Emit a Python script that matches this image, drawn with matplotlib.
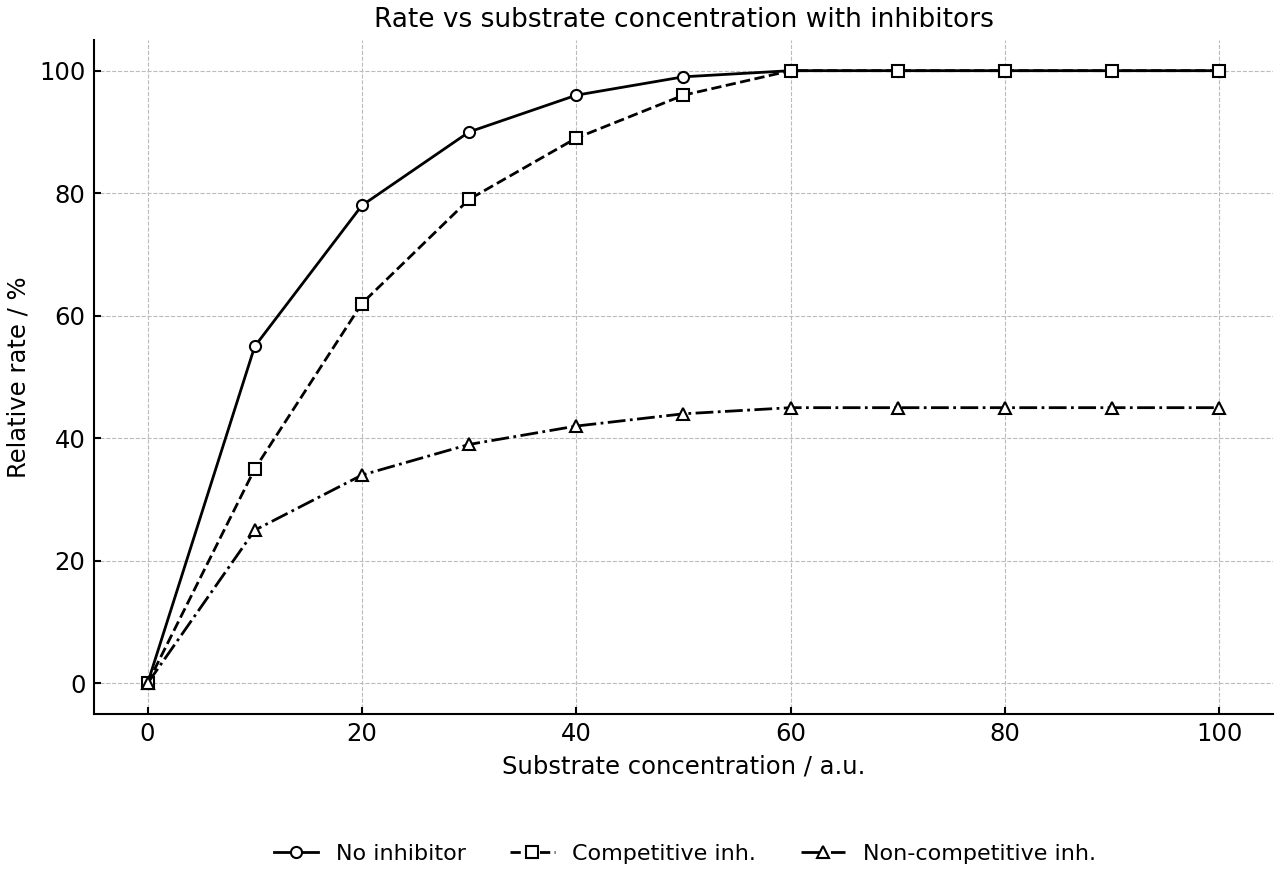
import matplotlib
matplotlib.use("Agg")
import matplotlib.pyplot as plt

substrate = [0, 10, 20, 30, 40, 50, 60, 70, 80, 90, 100]
no_inhibitor = [0, 55, 78, 90, 96, 99, 100, 100, 100, 100, 100]
competitive = [0, 35, 62, 79, 89, 96, 100, 100, 100, 100, 100]
noncompetitive = [0, 25, 34, 39, 42, 44, 45, 45, 45, 45, 45]

fig = plt.figure(figsize=(12.8, 8.8), dpi=100)
ax = fig.add_axes([0.0734, 0.1886, 0.9211, 0.7659])

mk = dict(markerfacecolor="white", markeredgecolor="black", markersize=8, markeredgewidth=1.5, color="black", linewidth=2)
ax.plot(substrate, no_inhibitor, linestyle="-", marker="o", label="No inhibitor", **mk)
ax.plot(substrate, competitive, linestyle="--", marker="s", label="Competitive inh.", **mk)
ax.plot(substrate, noncompetitive, linestyle="-.", marker="^", label="Non-competitive inh.", **mk)

ax.set_xlim(-5, 105)
ax.set_ylim(-5, 105)
ax.set_xticks([0, 20, 40, 60, 80, 100])
ax.set_yticks([0, 20, 40, 60, 80, 100])
ax.grid(True, linestyle="--", color="#bbbbbb", linewidth=0.8)
ax.set_axisbelow(True)
for s in ["top", "right"]:
    ax.spines[s].set_visible(False)
for s in ["left", "bottom"]:
    ax.spines[s].set_linewidth(1.5)
ax.tick_params(labelsize=17.5, width=1.5, length=5, direction="in", pad=6)
ax.set_xlabel("Substrate concentration / a.u.", fontsize=17.5, labelpad=5.5)
ax.set_ylabel("Relative rate / %", fontsize=17.5, labelpad=6.5)
ax.set_title("Rate vs substrate concentration with inhibitors", fontsize=19, pad=9.5)
fig.legend(loc="center", bbox_to_anchor=(0.535, 0.03), ncol=3, frameon=False, fontsize=16)

fig.savefig("out.png", dpi=100)
